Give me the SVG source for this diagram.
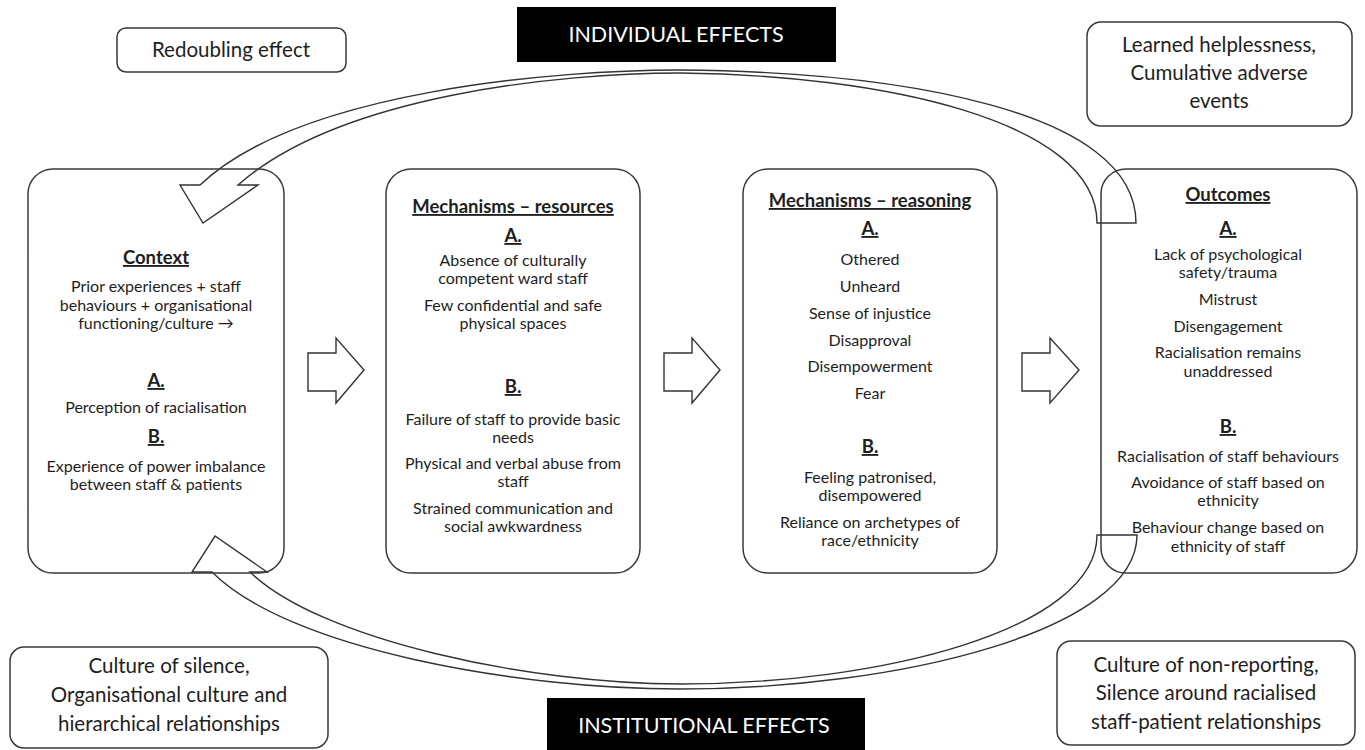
<svg xmlns="http://www.w3.org/2000/svg" width="1365" height="750" viewBox="0 0 1365 750">
<style>
.box{fill:none;stroke:#3a3a3a;stroke-width:1.5}
.conn{fill:none;stroke:#333;stroke-width:1.4;stroke-linejoin:miter}
text{font-family:Lato,"Liberation Sans",sans-serif;fill:#1e1e1e;text-anchor:middle}
.t{font-size:16px}
.h{font-size:18.5px;font-weight:bold;text-decoration:underline}
.s{font-size:20.5px}
.w{font-size:21.5px;fill:#fff}
</style>
<rect width="1365" height="750" fill="#fff"/>

<g id="connectors">
<path class="conn" d="M1136,223 C1136,110 900,72 680,70 C560,70 300,90 200,185 L180,185 L203,223 L258,185 L238,185 C340,95 560,73 680,73 C880,75 1097,120 1097,223 Z"/>
<path class="conn" d="M1137,535 C1137,630 900,689 680,689 C520,689 290,650 212,572 L192,572 L215,536 L267,572 L250,572 C320,640 530,684 680,684 C880,684 1097,630 1097,535 Z"/>
<path id="arrow1" class="conn" d="M308,353 L336,353 L336,338 L364,370 L336,403 L336,391 L308,391 Z"/>
<path id="arrow2" class="conn" d="M664,353 L692,353 L692,338 L720,370 L692,403 L692,391 L664,391 Z"/>
<path id="arrow3" class="conn" d="M1022,353 L1050,353 L1050,338 L1079,370 L1050,403 L1050,391 L1022,391 Z"/>
</g>

<g id="context">
<rect class="box" x="28" y="169" width="256" height="404" rx="25"/>
<text class="h" x="156" y="264">Context</text>
<text class="t" x="156" y="292">Prior experiences + staff</text>
<text class="t" x="156" y="311">behaviours + organisational</text>
<text class="t" x="156" y="329">functioning/culture →</text>
<text class="h" x="156" y="387">A.</text>
<text class="t" x="156" y="413">Perception of racialisation</text>
<text class="h" x="156" y="443">B.</text>
<text class="t" x="156" y="472">Experience of power imbalance</text>
<text class="t" x="156" y="490">between staff &amp; patients</text>
</g>

<g id="resources">
<rect class="box" x="386" y="169" width="254" height="404" rx="25"/>
<text class="h" x="513" y="213">Mechanisms – resources</text>
<text class="h" x="513" y="242">A.</text>
<text class="t" x="513" y="266">Absence of culturally</text>
<text class="t" x="513" y="284">competent ward staff</text>
<text class="t" x="513" y="311">Few confidential and safe</text>
<text class="t" x="513" y="329">physical spaces</text>
<text class="h" x="513" y="393">B.</text>
<text class="t" x="513" y="425">Failure of staff to provide basic</text>
<text class="t" x="513" y="443">needs</text>
<text class="t" x="513" y="469">Physical and verbal abuse from</text>
<text class="t" x="513" y="487">staff</text>
<text class="t" x="513" y="514">Strained communication and</text>
<text class="t" x="513" y="532">social awkwardness</text>
</g>

<g id="reasoning">
<rect class="box" x="743" y="169" width="254" height="404" rx="25"/>
<text class="h" x="870" y="207">Mechanisms – reasoning</text>
<text class="h" x="870" y="235">A.</text>
<text class="t" x="870" y="265">Othered</text>
<text class="t" x="870" y="292">Unheard</text>
<text class="t" x="870" y="319">Sense of injustice</text>
<text class="t" x="870" y="346">Disapproval</text>
<text class="t" x="870" y="372">Disempowerment</text>
<text class="t" x="870" y="399">Fear</text>
<text class="h" x="870" y="453">B.</text>
<text class="t" x="870" y="483">Feeling patronised,</text>
<text class="t" x="870" y="501">disempowered</text>
<text class="t" x="870" y="528">Reliance on archetypes of</text>
<text class="t" x="870" y="546">race/ethnicity</text>
</g>

<g id="outcomes">
<rect class="box" x="1101" y="169" width="256" height="404" rx="25"/>
<text class="h" x="1228" y="201">Outcomes</text>
<text class="h" x="1228" y="235">A.</text>
<text class="t" x="1228" y="260">Lack of psychological</text>
<text class="t" x="1228" y="278">safety/trauma</text>
<text class="t" x="1228" y="305">Mistrust</text>
<text class="t" x="1228" y="332">Disengagement</text>
<text class="t" x="1228" y="358">Racialisation remains</text>
<text class="t" x="1228" y="377">unaddressed</text>
<text class="h" x="1228" y="433">B.</text>
<text class="t" x="1228" y="462">Racialisation of staff behaviours</text>
<text class="t" x="1228" y="488">Avoidance of staff based on</text>
<text class="t" x="1228" y="506">ethnicity</text>
<text class="t" x="1228" y="533">Behaviour change based on</text>
<text class="t" x="1228" y="552">ethnicity of staff</text>
</g>

<g id="redoubling">
<rect class="box" x="117" y="28" width="229" height="44" rx="9"/>
<text class="s" x="231" y="57">Redoubling effect</text>
</g>

<g id="individual">
<rect x="517" y="7" width="319" height="55" fill="#000"/>
<text class="w" x="676" y="42">INDIVIDUAL EFFECTS</text>
</g>

<g id="learned">
<rect class="box" x="1087" y="22" width="265" height="104" rx="14"/>
<text class="s" x="1219" y="52">Learned helplessness,</text>
<text class="s" x="1219" y="80">Cumulative adverse</text>
<text class="s" x="1219" y="108">events</text>
</g>

<g id="silence">
<rect class="box" x="10" y="647" width="318" height="101" rx="14"/>
<text class="s" x="169" y="673">Culture of silence,</text>
<text class="s" x="169" y="702">Organisational culture and</text>
<text class="s" x="169" y="731">hierarchical relationships</text>
</g>

<g id="institutional">
<rect x="547" y="698" width="318" height="52" fill="#000"/>
<text class="w" x="704" y="733">INSTITUTIONAL EFFECTS</text>
</g>

<g id="nonreporting">
<rect class="box" x="1057" y="641" width="298" height="104" rx="14"/>
<text class="s" x="1206" y="672">Culture of non-reporting,</text>
<text class="s" x="1206" y="700">Silence around racialised</text>
<text class="s" x="1206" y="729">staff-patient relationships</text>
</g>
</svg>
